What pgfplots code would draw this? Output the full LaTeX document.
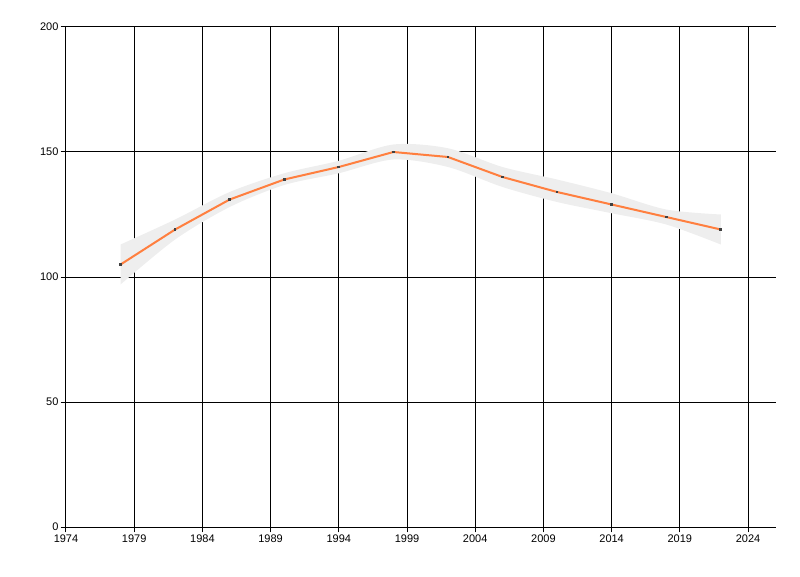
\documentclass[border=0pt]{standalone}
\usepackage{fontspec}
\setmainfont{Liberation Sans}
\usepackage{pgfplots}
\pgfplotsset{compat=1.18}
\usepgfplotslibrary{fillbetween}
\usetikzlibrary{calc}

\definecolor{lineorange}{HTML}{FF7F3F}
\definecolor{bandgray}{HTML}{EEEEEE}
\definecolor{markgray}{HTML}{404040}

\begin{document}
\begin{tikzpicture}[x=1pt,y=1pt]
\begin{axis}[
    name=ax,
    scale only axis,
    width=532.5pt, height=375pt,
    xmin=1974, xmax=2026.05,
    ymin=0, ymax=200,
    xtick={1974,1979,...,2024},
    ytick={0,50,100,150,200},
    axis x line=bottom, axis y line=left,
    axis line style={-, black, line width=0.75pt},
    grid=major,
    major grid style={black, line width=0.75pt},
    tick style={black, line width=0.75pt},
    major tick length=4pt,
    tick align=outside,
    /pgf/number format/assume math mode=true,
    /pgf/number format/1000 sep={},
    ticklabel style={font=\fontsize{8.25}{9}\selectfont, text=black},
    xticklabel style={inner sep=1pt, yshift=-0.5pt},
    yticklabel style={inner sep=1.5pt},
    clip=false,
]
% confidence band
\addplot[name path=up, draw=none, smooth, tension=0.5, forget plot] coordinates {
    (1978,113) (1982,123) (1986,134) (1990,141.5) (1994,146.5) (1998,153)
    (2002,151.5) (2006,144) (2010,139) (2014,133.5) (2018,127) (2022,125)
};
\addplot[name path=lo, draw=none, smooth, tension=0.5, forget plot] coordinates {
    (1978,97) (1982,115) (1986,128) (1990,136.8) (1994,141.5) (1998,147)
    (2002,144) (2006,136) (2010,130) (2014,125.5) (2018,121) (2022,113)
};
\addplot[bandgray, forget plot] fill between[of=up and lo];
% series
\addplot[lineorange, line width=1.5pt, mark=square*, mark size=0.65pt,
    mark options={draw=markgray, fill=markgray, line width=0pt}] coordinates {
    (1978,105) (1982,119) (1986,131) (1990,139) (1994,144) (1998,150)
    (2002,148) (2006,140) (2010,134) (2014,129) (2018,124) (2022,119)
};
\end{axis}
\pgfresetboundingbox
\useasboundingbox ($(ax.south west)+(-49.5pt,-36.75pt)$) rectangle ($(ax.north east)+(18pt,20.25pt)$);
\end{tikzpicture}
\end{document}
